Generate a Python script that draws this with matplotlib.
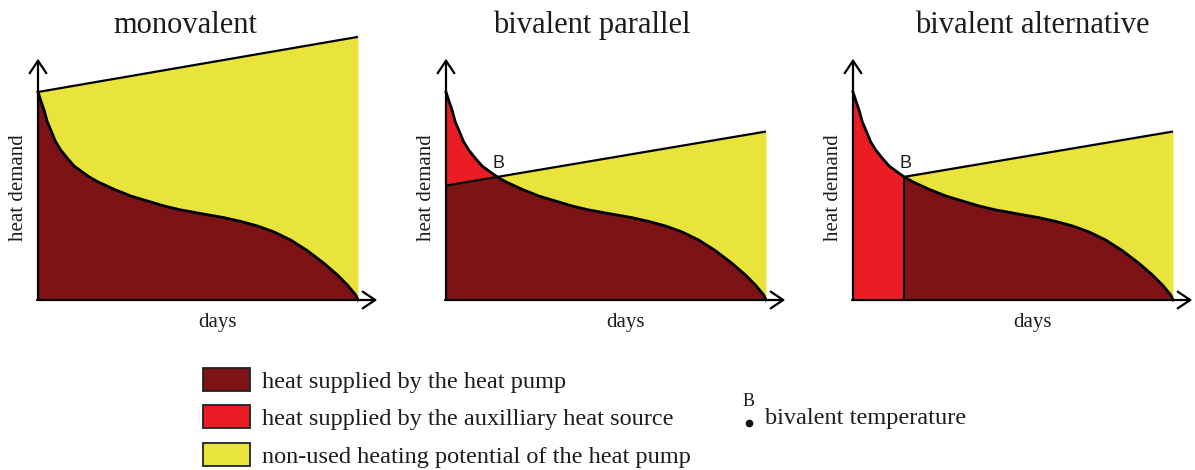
import matplotlib
matplotlib.use("Agg")
import matplotlib.pyplot as plt
from matplotlib.patches import Rectangle
import numpy as np

# load duration curve (same in all three panels)
days = [0, 0.85, 1.9, 2.9, 4.0, 5.5, 7.1, 9.2, 11.3, 14.4, 16, 18.6, 23.8, 29, 34.2,
        39.4, 44.6, 49, 52.9, 58.1, 63.3, 68.6, 73.8, 79, 84.2, 89.4, 93.6, 96.7, 99.3, 100]
demand = [100, 96, 91.3, 85.7, 81.7, 76.1, 72.1, 68.1, 64.4, 60.9, 59.2, 56.9, 53.2, 50, 47.6,
          45.2, 43.3, 42.1, 41.0, 39.6, 37.8, 35.6, 32.7, 28.8, 23.7, 17.6, 12, 7.2, 2.4, 0]

# bivalent point
b_day = 16
b_demand = 59.2

# heat pump capacity lines (start, end)
cap_mono_x = [0, 100]
cap_mono_y = [100, 126.5]
cap_par_x = [0, 100]
cap_par_y = [55, 81]
cap_alt_x = [16, 100]
cap_alt_y = [59.2, 81]

titles = ["monovalent", "bivalent parallel", "bivalent alternative"]
title_x = [46, 45.5, 56]

legend_labels = ["heat supplied by the heat pump",
                 "heat supplied by the auxilliary heat source",
                 "non-used heating potential of the heat pump"]

MAROON = "#7d1315"
RED = "#ec1c24"
YELLOW = "#e8e43c"
legend_colors = [MAROON, RED, YELLOW]
TXT = "#1c1c1c"

SERIF = "Liberation Serif"
SANS = "Liberation Sans"

W, H = 1195, 470
SX, SY = 3.2, 2.08          # pixels per data unit
X0, X1, Y0, Y1 = -6, 107, -20, 130
origins = [38, 446, 853]     # pixel x of each origin, y origin at 300

fig = plt.figure(figsize=(W / 100, H / 100), dpi=100)

days_a = np.array(days)
dem_a = np.array(demand)

axes = []
for ox in origins:
    left = ox + X0 * SX
    bottom = 300 - Y0 * SY
    ax = fig.add_axes([left / W, 1 - bottom / H, (X1 - X0) * SX / W, (Y1 - Y0) * SY / H])
    ax.set_xlim(X0, X1)
    ax.set_ylim(Y0, Y1)
    ax.axis("off")
    axes.append(ax)

# monovalent
ax = axes[0]
cap = np.interp(days_a, cap_mono_x, cap_mono_y)
ax.fill_between(days_a, 0, dem_a, color=MAROON, lw=0)
ax.fill_between(days_a, dem_a, cap, color=YELLOW, lw=0)
ax.plot(cap_mono_x, cap_mono_y, color="k", lw=1.6, solid_capstyle="butt")

# bivalent parallel
ax = axes[1]
cap = np.interp(days_a, cap_par_x, cap_par_y)
ax.fill_between(days_a, 0, np.minimum(dem_a, cap), color=MAROON, lw=0)
ax.fill_between(days_a, cap, dem_a, where=dem_a >= cap, interpolate=True, color=RED, lw=0)
ax.fill_between(days_a, dem_a, cap, where=cap >= dem_a, interpolate=True, color=YELLOW, lw=0)
ax.plot(cap_par_x, cap_par_y, color="k", lw=1.6, solid_capstyle="butt")

# bivalent alternative
ax = axes[2]
cap = np.interp(days_a, cap_alt_x, cap_alt_y)
ax.fill_between(days_a, 0, dem_a, where=days_a <= b_day, color=RED, lw=0)
ax.fill_between(days_a, 0, dem_a, where=days_a >= b_day, color=MAROON, lw=0)
ax.fill_between(days_a, dem_a, cap, where=days_a >= b_day, color=YELLOW, lw=0)
ax.plot(cap_alt_x, cap_alt_y, color="k", lw=1.6, solid_capstyle="butt")
ax.vlines(b_day, 0, b_demand, color="k", lw=1.5)

for i, ax in enumerate(axes):
    ax.plot(days, demand, color="k", lw=2.0, solid_joinstyle="round")
    arrow = dict(arrowstyle="->,head_length=0.45,head_width=0.3", lw=1.6,
                 color="k", shrinkA=0, shrinkB=0, mutation_scale=20)
    ax.annotate("", xy=(0, 116), xytext=(0, 0), arrowprops=arrow)
    ax.annotate("", xy=(106, 0), xytext=(-0.3, 0), arrowprops=arrow)
    ax.text(title_x[i], 128.4, titles[i], ha="center", va="baseline",
            fontsize=22, family=SERIF, color=TXT)
    ax.text(-6.0, 54, "heat demand", rotation=90, ha="center", va="center",
            fontsize=15, family=SERIF, color=TXT)
    ax.text(56, -13, "days", ha="center", va="baseline",
            fontsize=15, family=SERIF, color=TXT)
    if i > 0:
        ax.text(b_day + 0.5, b_demand + 6.5, "B", ha="center", va="center",
                fontsize=13, family=SANS, color=TXT)

# legend drawn in pixel space
lg = fig.add_axes([0, 0, 1, 125 / H])
lg.set_xlim(0, W)
lg.set_ylim(470, 345)
lg.axis("off")
for j, (lab, col) in enumerate(zip(legend_labels, legend_colors)):
    top = 368 + j * 37.5
    lg.add_patch(Rectangle((203, top), 47, 23, facecolor=col, edgecolor="#222222", lw=1.3))
    lg.text(262, top + 20, lab, ha="left", va="baseline", fontsize=17.5,
            family=SERIF, color=TXT)
lg.text(749, 406, "B", ha="center", va="baseline", fontsize=13, family=SERIF, color=TXT)
lg.plot([749], [423], "o", color="#111111", ms=4.5)
lg.text(765, 424, "bivalent temperature", ha="left", va="baseline", fontsize=17.5,
        family=SERIF, color=TXT)

fig.savefig("out.png", dpi=100)
